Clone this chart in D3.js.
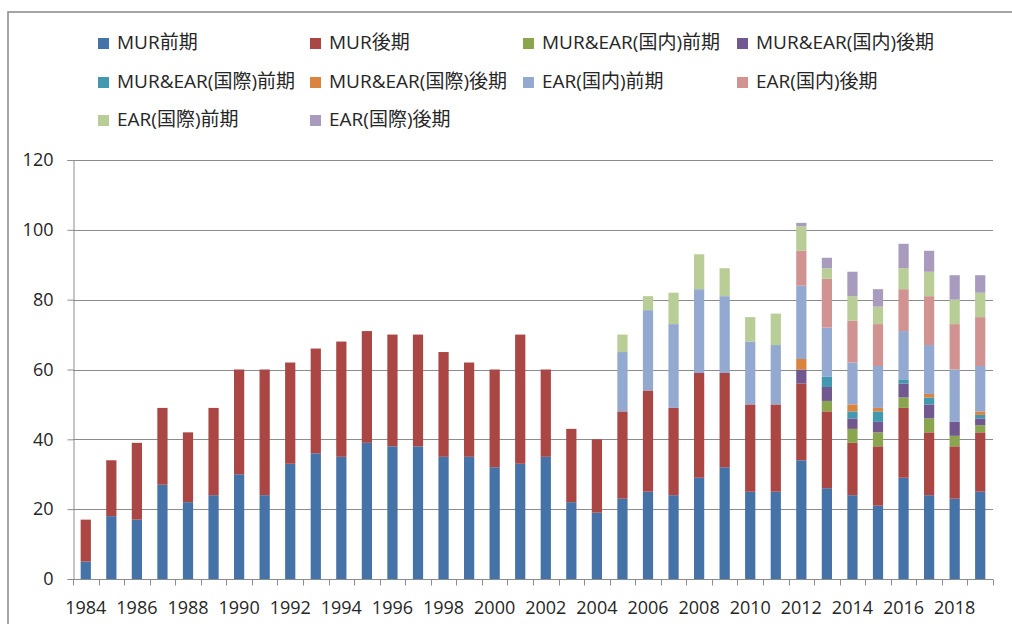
<!DOCTYPE html>
<html>
<head>
<meta charset="utf-8">
<script src="https://cdn.jsdelivr.net/npm/d3@7"></script>
<style>
  html, body { margin: 0; padding: 0; background: #fff; }
  svg { display: block; }
  text { font-family: "Open Sans", "Noto Sans CJK JP", sans-serif; fill: #262626; }
</style>
</head>
<body>
<svg id="chart" width="1012" height="624"></svg>
<script>
const years = d3.range(1984, 2020).map(String);
const tickYears = ["1984","1986","1988","1990","1992","1994","1996","1998","2000","2002","2004","2006","2008","2010","2012","2014","2016","2018"];
const yTicks = [0, 20, 40, 60, 80, 100, 120];
const seriesNames = ["MUR前期","MUR後期","MUR&EAR(国内)前期","MUR&EAR(国内)後期","MUR&EAR(国際)前期","MUR&EAR(国際)後期","EAR(国内)前期","EAR(国内)後期","EAR(国際)前期","EAR(国際)後期"];
const seriesColors = ["#4572A7","#AA4643","#89A54E","#71588F","#4198AF","#DB843D","#93A9CF","#D19392","#B9CD96","#A99BBD"];

// values 1984..2019
const murZenki   = [5,18,17,27,22,24,30,24,33,36,35,39,38,38,35,35,32,33,35,22,19,23,25,24,29,32,25,25,34,26,24,21,29,24,23,25];
const murKouki   = [12,16,22,22,20,25,30,36,29,30,33,32,32,32,30,27,28,37,25,21,21,25,29,25,30,27,25,25,22,22,15,17,20,18,15,17];
const meDomZenki = [0,0,0,0,0,0,0,0,0,0,0,0,0,0,0,0,0,0,0,0,0,0,0,0,0,0,0,0,0,3,4,4,3,4,3,2];
const meDomKouki = [0,0,0,0,0,0,0,0,0,0,0,0,0,0,0,0,0,0,0,0,0,0,0,0,0,0,0,0,4,4,3,3,4,4,4,2];
const meIntZenki = [0,0,0,0,0,0,0,0,0,0,0,0,0,0,0,0,0,0,0,0,0,0,0,0,0,0,0,0,0,3,2,3,1,2,0,1];
const meIntKouki = [0,0,0,0,0,0,0,0,0,0,0,0,0,0,0,0,0,0,0,0,0,0,0,0,0,0,0,0,3,0,2,1,0,1,0,1];
const earDomZenki= [0,0,0,0,0,0,0,0,0,0,0,0,0,0,0,0,0,0,0,0,0,17,23,24,24,22,18,17,21,14,12,12,14,14,15,13];
const earDomKouki= [0,0,0,0,0,0,0,0,0,0,0,0,0,0,0,0,0,0,0,0,0,0,0,0,0,0,0,0,10,14,12,12,12,14,13,14];
const earIntZenki= [0,0,0,0,0,0,0,0,0,0,0,0,0,0,0,0,0,0,0,0,0,5,4,9,10,8,7,9,7,3,7,5,6,7,7,7];
const earIntKouki= [0,0,0,0,0,0,0,0,0,0,0,0,0,0,0,0,0,0,0,0,0,0,0,0,0,0,0,0,1,3,7,5,7,6,7,5];

const seriesValues = [murZenki, murKouki, meDomZenki, meDomKouki, meIntZenki, meIntKouki, earDomZenki, earDomKouki, earIntZenki, earIntKouki];

const table = years.map((y, i) => {
  const row = { year: y };
  seriesNames.forEach((n, k) => row[n] = seriesValues[k][i]);
  return row;
});

const svg = d3.select("#chart");
const W = 1012, H = 624;

// outer frame
svg.append("rect").attr("x", 8).attr("y", 12).attr("width", W + 10).attr("height", H + 10)
  .attr("fill", "#fff").attr("stroke", "#888").attr("stroke-width", 1.5);

const plot = { left: 73, right: 993, top: 160, bottom: 579 };

const x = d3.scaleBand().domain(years).range([plot.left, plot.right]).paddingInner(0.6).paddingOuter(0.3);
const xb = d3.scaleBand().domain(years).range([plot.left, plot.right]);
const y = d3.scaleLinear().domain([0, 120]).range([plot.bottom, plot.top]);

// gridlines
svg.append("g").selectAll("line").data(yTicks.filter(d => d > 0)).join("line")
  .attr("x1", plot.left).attr("x2", plot.right)
  .attr("y1", d => Math.round(y(d)) + 0.5).attr("y2", d => Math.round(y(d)) + 0.5)
  .attr("stroke", "#8c8c8c").attr("stroke-width", 1);

// y axis
const yAxis = svg.append("g").attr("transform", `translate(${plot.left + 0.5},0)`)
  .call(d3.axisLeft(y).tickValues(yTicks).tickSize(6).tickPadding(14));
yAxis.select(".domain").attr("stroke", "#8c8c8c");
yAxis.selectAll(".tick line").attr("stroke", "#8c8c8c");
yAxis.selectAll(".tick text").attr("font-size", 18).attr("fill", "#262626")
  .style("font-family", '"Open Sans", sans-serif');

// bars
const stack = d3.stack().keys(seriesNames)(table);
svg.append("g").selectAll("g").data(stack).join("g")
  .attr("fill", (d, i) => seriesColors[i])
  .selectAll("rect").data(d => d.filter(v => v[1] - v[0] > 0)).join("rect")
  .attr("x", d => x(d.data.year))
  .attr("width", x.bandwidth())
  .attr("y", d => y(d[1]))
  .attr("height", d => y(d[0]) - y(d[1]));

// x axis
const xAxisG = svg.append("g").attr("transform", `translate(0,${plot.bottom + 0.5})`);
xAxisG.append("line").attr("x1", plot.left).attr("x2", plot.right).attr("stroke", "#8c8c8c");
const bounds = years.map(yr => xb(yr)).concat([plot.right]);
xAxisG.selectAll("line.tk").data(bounds).join("line").attr("class", "tk")
  .attr("x1", d => Math.round(d) + 0.5).attr("x2", d => Math.round(d) + 0.5)
  .attr("y1", 0).attr("y2", 6).attr("stroke", "#8c8c8c");
xAxisG.selectAll("text").data(tickYears).join("text")
  .attr("x", d => xb(d) + xb.bandwidth() / 2).attr("y", 34)
  .attr("text-anchor", "middle").attr("font-size", 18)
  .style("font-family", '"Open Sans", sans-serif')
  .text(d => d);

// legend
const legCols = [98, 310, 523, 737];
const legRows = [43, 82, 120];
const leg = svg.append("g");
seriesNames.forEach((n, i) => {
  const cx = legCols[i % 4], cy = legRows[Math.floor(i / 4)];
  leg.append("rect").attr("x", cx).attr("y", cy - 5).attr("width", 11).attr("height", 11)
    .attr("fill", seriesColors[i]);
  leg.append("text").attr("x", cx + 19).attr("y", cy + 1).attr("dominant-baseline", "middle")
    .attr("font-size", 19).text(n);
});
</script>
</body>
</html>
